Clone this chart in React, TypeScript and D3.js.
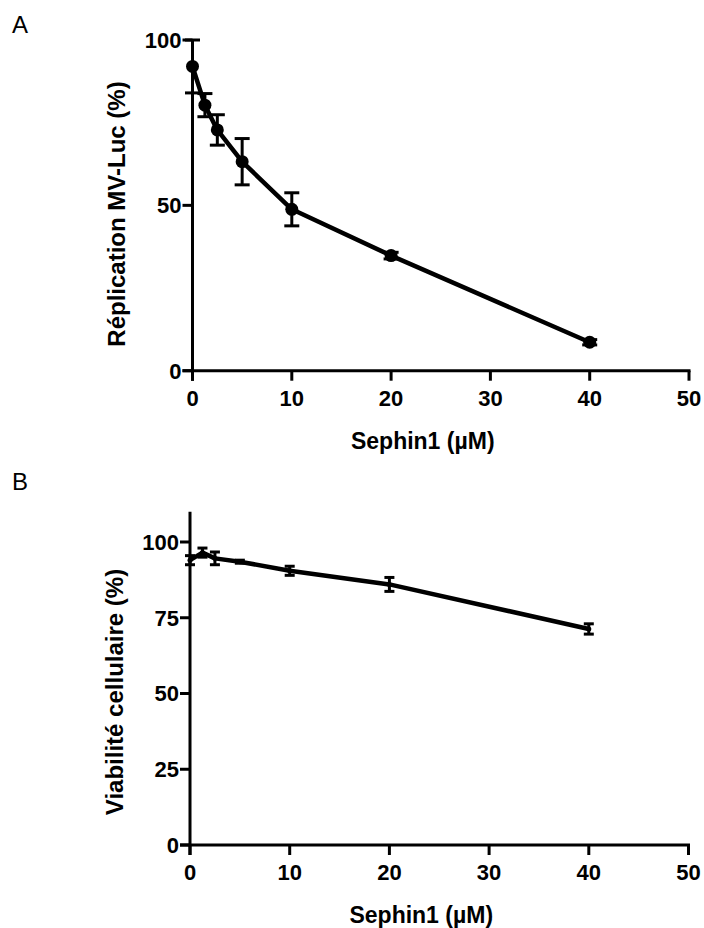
import * as d3 from "d3";

// ---------------------------------------------------------------------------
// Data
// ---------------------------------------------------------------------------

const doses = [0, 1.25, 2.5, 5, 10, 20, 40];

const replicationMean = [92, 80.3, 72.8, 63.2, 48.8, 34.8, 8.6];
const replicationSem = [8, 3.5, 4.6, 7, 5, 1, 0.8];

const viabilityMean = [94, 96.5, 94.6, 93.5, 90.5, 86, 71.3];
const viabilitySem = [1.5, 1.5, 2.1, 0.5, 1.5, 2.3, 1.7];

const xTicks = [0, 10, 20, 30, 40, 50];
const replicationTicks = [0, 50, 100];
const viabilityTicks = [0, 25, 50, 75, 100];

const FONT = "'Liberation Sans', Arial, Helvetica, sans-serif";

type PanelProps = {
  letter: string;
  letterY: number;
  yTitle: string;
  means: number[];
  sems: number[];
  yDomain: [number, number];
  yTicks: number[];
  xRange: [number, number];
  yRange: [number, number];
  yTitleX: number;
  yTitleY: number;
  capWidth: number;
  dotR: number;
};

function Panel(p: PanelProps) {
  const x = d3.scaleLinear().domain([0, 50]).range(p.xRange);
  const y = d3.scaleLinear().domain(p.yDomain).range(p.yRange);
  const pts = doses.map((d, i) => ({ x: d, m: p.means[i], s: p.sems[i] }));
  const line = d3
    .line<{ x: number; m: number }>()
    .x((d) => x(d.x))
    .y((d) => y(d.m));

  const x0 = x(0);
  const y0 = y(0);
  const tick = 10;

  return (
    <g>
      <text x={12} y={p.letterY} fontFamily={FONT} fontSize={24} fill="#000">
        {p.letter}
      </text>

      {/* axes */}
      <line x1={x0} x2={x0} y1={y(p.yDomain[1])} y2={y0 + tick} stroke="#000" strokeWidth={3} />
      <line x1={x0 - tick} x2={x(50) + 1.5} y1={y0} y2={y0} stroke="#000" strokeWidth={3} />

      {xTicks.map((t) => (
        <g key={"x" + t}>
          <line x1={x(t)} x2={x(t)} y1={y0} y2={y0 + tick} stroke="#000" strokeWidth={3} />
          <text
            x={x(t)}
            y={y0 + 35}
            textAnchor="middle"
            fontFamily={FONT}
            fontWeight="bold"
            fontSize={22}
          >
            {t}
          </text>
        </g>
      ))}

      {p.yTicks.map((t) => (
        <g key={"y" + t}>
          <line x1={x0 - tick} x2={x0} y1={y(t)} y2={y(t)} stroke="#000" strokeWidth={3} />
          <text
            x={x0 - tick - 1}
            y={y(t)}
            dy="0.36em"
            textAnchor="end"
            fontFamily={FONT}
            fontWeight="bold"
            fontSize={22}
          >
            {t}
          </text>
        </g>
      ))}

      <text
        x={(p.xRange[0] + p.xRange[1]) / 2 - 18}
        y={y0 + 78}
        textAnchor="middle"
        fontFamily={FONT}
        fontWeight="bold"
        fontSize={23}
      >
        Sephin1 (µM)
      </text>

      <text
        transform={`translate(${p.yTitleX},${p.yTitleY}) rotate(-90)`}
        textAnchor="middle"
        fontFamily={FONT}
        fontWeight="bold"
        fontSize={24}
      >
        {p.yTitle}
      </text>

      {/* error bars */}
      {pts.map((d) => (
        <g key={"e" + d.x} stroke="#000" strokeWidth={3}>
          <line x1={x(d.x)} x2={x(d.x)} y1={y(d.m - d.s)} y2={y(d.m + d.s)} />
          <line
            x1={x(d.x) - p.capWidth / 2}
            x2={x(d.x) + p.capWidth / 2}
            y1={y(d.m - d.s)}
            y2={y(d.m - d.s)}
          />
          <line
            x1={x(d.x) - p.capWidth / 2}
            x2={x(d.x) + p.capWidth / 2}
            y1={y(d.m + d.s)}
            y2={y(d.m + d.s)}
          />
        </g>
      ))}

      <path d={line(pts) ?? ""} fill="none" stroke="#000" strokeWidth={4.5} strokeLinejoin="round" />

      {pts.map((d) => (
        <circle key={"c" + d.x} cx={x(d.x)} cy={y(d.m)} r={p.dotR} fill="#000" />
      ))}
    </g>
  );
}

export default function App() {
  return (
    <svg
      width={704}
      height={928}
      style={{ position: "absolute", left: 0, top: 0, background: "#fff" }}
    >
      <rect width={704} height={928} fill="#fff" />
      <Panel
        letter="A"
        letterY={33}
        yTitle="Réplication MV-Luc (%)"
        means={replicationMean}
        sems={replicationSem}
        yDomain={[0, 100]}
        yTicks={replicationTicks}
        xRange={[192.5, 689]}
        yRange={[370.7, 40]}
        yTitleX={125}
        yTitleY={214}
        capWidth={15}
        dotR={6.5}
      />
      <Panel
        letter="B"
        letterY={490}
        yTitle="Viabilité cellulaire (%)"
        means={viabilityMean}
        sems={viabilitySem}
        yDomain={[0, 110]}
        yTicks={viabilityTicks}
        xRange={[190, 688.5]}
        yRange={[845, 511.7]}
        yTitleX={123}
        yTitleY={692}
        capWidth={10}
        dotR={2.5}
      />
    </svg>
  );
}
